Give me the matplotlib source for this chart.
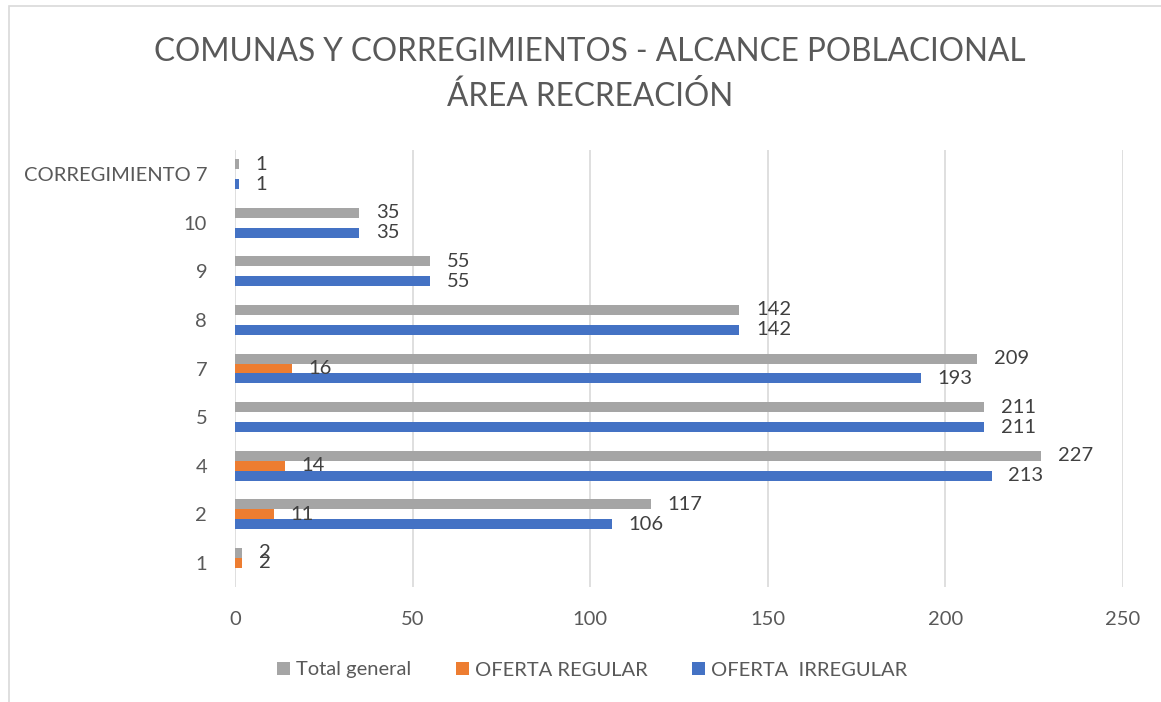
import numpy as np
import matplotlib
matplotlib.use("Agg")
import matplotlib.pyplot as plt
from matplotlib.patches import Patch, Rectangle

categories = ["1", "2", "4", "5", "7", "8", "9", "10", "CORREGIMIENTO 7"]
irregular = [np.nan, 106, 213, 211, 193, 142, 55, 35, 1]
regular = [2, 11, 14, np.nan, 16, np.nan, np.nan, np.nan, np.nan]
total = [2, 117, 227, 211, 209, 142, 55, 35, 1]
xticks = [0, 50, 100, 150, 200, 250]

plt.rcParams["font.family"] = ["Lato", "DejaVu Sans"]

fig = plt.figure(figsize=(11.61, 7.02), dpi=100)
ax = fig.add_axes([235 / 1161, 1 - 587 / 702, (1123 - 235) / 1161, (587 - 150) / 702])

# outer chart frame (partially visible, as in the reference)
fig.patches.append(Rectangle((9 / 1161, -0.1), 1.2, 1 - 6 / 702 + 0.1,
                             transform=fig.transFigure, fill=False,
                             edgecolor="#d9d9d9", linewidth=1.2))

y = np.arange(len(categories))
h = 0.205
series = [
    (total, "#a5a5a5", +h, "Total general"),
    (regular, "#ed7d31", 0.0, "OFERTA REGULAR"),
    (irregular, "#4472c4", -h, "OFERTA  IRREGULAR"),
]

for vals, color, off, label in series:
    arr = np.array(vals, dtype=float)
    mask = ~np.isnan(arr)
    ax.barh(y[mask] + off, arr[mask], height=h, color=color, zorder=3)
    for yi, v in zip(y[mask] + off, arr[mask]):
        ax.annotate(f"{int(v)}", (v, yi), xytext=(12, 0), textcoords="offset points",
                    va="center", ha="left", fontsize=14.5, color="#404040", zorder=4)

ax.set_xlim(0, 250)
ax.set_ylim(-0.5, len(categories) - 0.5)
ax.set_xticks(xticks)
ax.set_yticks(y)
ax.set_yticklabels(categories)
ax.tick_params(axis="both", length=0, labelsize=14.5, colors="#595959")
ax.tick_params(axis="x", pad=17)
ax.tick_params(axis="y", pad=20)
ax.grid(True, axis="x", color="#d9d9d9", linewidth=1.2, zorder=0)
for s in ["top", "right", "bottom", "left"]:
    ax.spines[s].set_visible(False)

fig.text(0.508, 1 - 52 / 702, "COMUNAS Y CORREGIMIENTOS - ALCANCE POBLACIONAL",
         ha="center", va="center", fontsize=22.7, color="#595959")
fig.text(0.508, 1 - 97 / 702, "ÁREA RECREACIÓN",
         ha="center", va="center", fontsize=22.7, color="#595959")

handles = [Patch(facecolor=c, label=l) for _, c, _, l in series]
fig.legend(handles=handles, loc="center", bbox_to_anchor=(0.51, 1 - 670 / 702),
           ncol=3, frameon=False, fontsize=14.5, handlelength=0.65, handleheight=0.65,
           handletextpad=0.3, columnspacing=2.2, labelcolor="#595959")

fig.savefig("out.png", dpi=100)
